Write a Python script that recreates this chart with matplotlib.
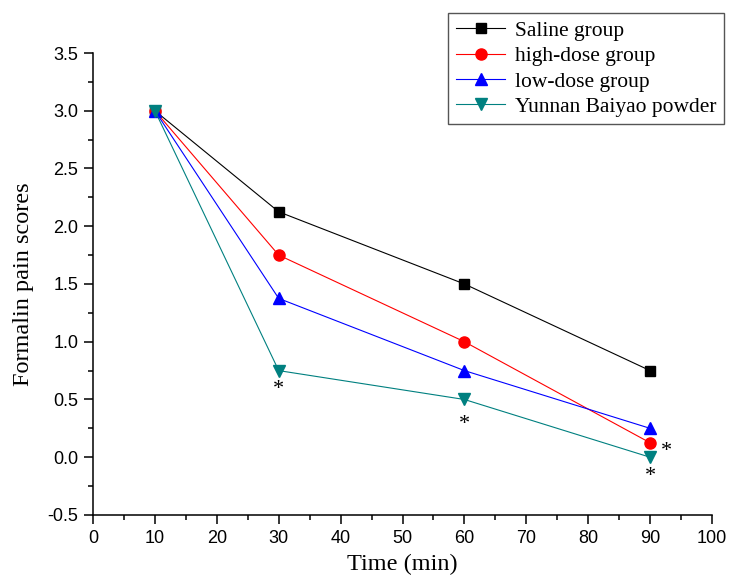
import matplotlib
matplotlib.use("Agg")
import matplotlib.pyplot as plt
from matplotlib.ticker import MultipleLocator

# data
time_min = [10, 30, 60, 90]
saline = [3.0, 2.125, 1.5, 0.75]
high_dose = [3.0, 1.75, 1.0, 0.125]
low_dose = [3.0, 1.375, 0.75, 0.25]
yunnan = [3.0, 0.75, 0.5, 0.0]

# significance marks (x, y)
star_x = [30, 60, 90, 92.7]
star_y = [0.59, 0.28, -0.17, 0.05]

fig = plt.figure(figsize=(7.29, 5.87), dpi=100)
ax = fig.add_axes([0.1276, 0.1227, 0.8491, 0.787])

ax.plot(time_min, saline, color="black", lw=0.8, marker="s", ms=6.5, label="Saline group")
ax.plot(time_min, high_dose, color="red", lw=0.8, marker="o", ms=8, label="high-dose group")
ax.plot(time_min, low_dose, color="blue", lw=0.8, marker="^", ms=9, label="low-dose group")
ax.plot(time_min, yunnan, color="#008080", lw=0.8, marker="v", ms=9, label="Yunnan Baiyao powder")

for sx, sy in zip(star_x, star_y):
    ax.text(sx, sy, "*", ha="center", va="center", fontsize=16, family="Liberation Serif")

ax.set_xlim(0, 100)
ax.set_ylim(-0.5, 3.5)
ax.xaxis.set_major_locator(MultipleLocator(10))
ax.xaxis.set_minor_locator(MultipleLocator(5))
ax.yaxis.set_major_locator(MultipleLocator(0.5))
ax.yaxis.set_minor_locator(MultipleLocator(0.25))
ax.yaxis.set_major_formatter(matplotlib.ticker.FormatStrFormatter("%.1f"))

for side in ["top", "right"]:
    ax.spines[side].set_visible(False)
for side in ["left", "bottom"]:
    ax.spines[side].set_linewidth(1.1)

ax.tick_params(which="major", direction="out", length=6.5, width=1.1, labelsize=13, pad=4)
ax.tick_params(which="minor", direction="out", length=3.5, width=1.1)
for lab in ax.get_xticklabels() + ax.get_yticklabels():
    lab.set_family("Liberation Sans")

ax.set_xlabel("Time (min)", fontsize=17.5, family="Liberation Serif", labelpad=5)
ax.set_ylabel("Formalin pain scores", fontsize=17.5, family="Liberation Serif", labelpad=10)

leg = fig.legend(loc="upper right", bbox_to_anchor=(724 / 729, 1 - 13 / 587),
                 prop={"family": "Liberation Serif", "size": 15.5},
                 frameon=True, fancybox=False, edgecolor="#555555", framealpha=1,
                 handlelength=2.3, borderaxespad=0, labelspacing=0.25,
                 borderpad=0.35, handletextpad=0.45)
leg.get_frame().set_linewidth(1.0)

fig.savefig("out.png", dpi=100)
